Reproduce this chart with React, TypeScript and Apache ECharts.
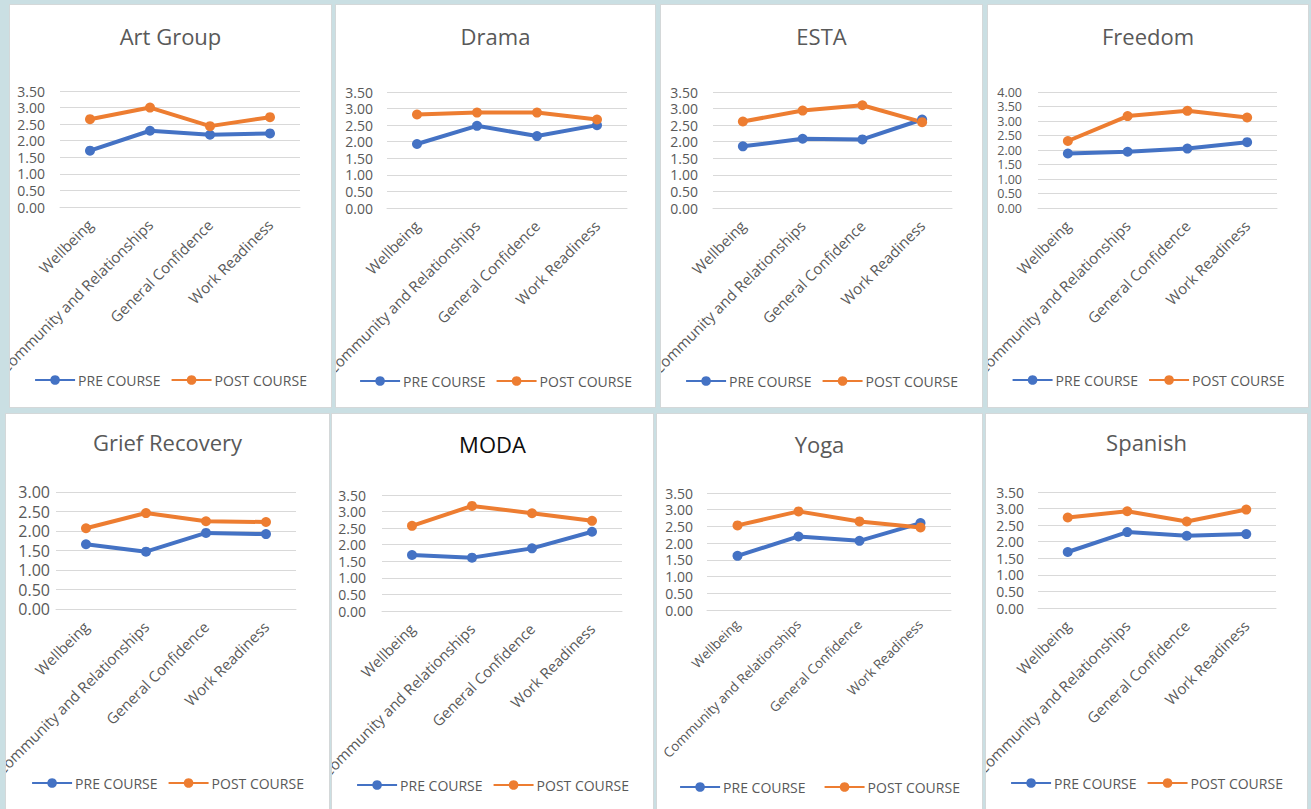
import React, { useEffect, useRef } from "react";
import * as echarts from "echarts";

// Survey dimensions on the category axis
const categories = [
  "Wellbeing",
  "Community and Relationships",
  "General Confidence",
  "Work Readiness",
];
const seriesNames = ["PRE COURSE", "POST COURSE"];

// Average scores per course, before and after
const artPre = [1.7, 2.3, 2.18, 2.22];
const artPost = [2.65, 3.0, 2.44, 2.71];
const dramaPre = [1.93, 2.48, 2.17, 2.5];
const dramaPost = [2.82, 2.88, 2.88, 2.67];
const estaPre = [1.86, 2.09, 2.07, 2.67];
const estaPost = [2.61, 2.94, 3.1, 2.59];
const freedomPre = [1.88, 1.94, 2.05, 2.27];
const freedomPost = [2.31, 3.17, 3.35, 3.12];
const griefPre = [1.66, 1.47, 1.95, 1.92];
const griefPost = [2.07, 2.46, 2.25, 2.23];
const modaPre = [1.69, 1.61, 1.89, 2.39];
const modaPost = [2.57, 3.17, 2.95, 2.72];
const yogaPre = [1.62, 2.2, 2.07, 2.6];
const yogaPost = [2.53, 2.95, 2.65, 2.47];
const spanishPre = [1.69, 2.29, 2.18, 2.23];
const spanishPost = [2.73, 2.92, 2.61, 2.97];

const courseTitles = [
  "Art Group",
  "Drama",
  "ESTA",
  "Freedom",
  "Grief Recovery",
  "MODA",
  "Yoga",
  "Spanish",
];
const preScores = [artPre, dramaPre, estaPre, freedomPre, griefPre, modaPre, yogaPre, spanishPre];
const postScores = [artPost, dramaPost, estaPost, freedomPost, griefPost, modaPost, yogaPost, spanishPost];
const axisMax = [3.5, 3.5, 3.5, 4.0, 3.0, 3.5, 3.5, 3.5];
const axisStep = 0.5;

// Panel placement on the page (outer box incl. border) and inner layout
type PanelLayout = {
  x: number; y: number; w: number; h: number;
  gridLeft: number; gridTop: number; gridWidth: number; gridHeight: number;
  titleY: number; legendY: number; legendGap: number; titleColor: string;
  yFont: number; yMargin: number; xFont: number; xMargin: number;
};

const panelLayouts: PanelLayout[] = [
  { x: 9, y: 4, w: 323, h: 404, gridLeft: 51, gridTop: 87, gridWidth: 240, gridHeight: 116, titleY: 33, legendY: 376, legendGap: 10, titleColor: "#595959", yFont: 14, yMargin: 15, xFont: 15, xMargin: 15 },
  { x: 335, y: 4, w: 321, h: 404, gridLeft: 52, gridTop: 88, gridWidth: 240, gridHeight: 116, titleY: 33, legendY: 377, legendGap: 10, titleColor: "#595959", yFont: 14, yMargin: 14, xFont: 15, xMargin: 15 },
  { x: 660, y: 4, w: 323, h: 404, gridLeft: 53, gridTop: 88, gridWidth: 239, gridHeight: 116, titleY: 33, legendY: 377, legendGap: 10, titleColor: "#595959", yFont: 14, yMargin: 15, xFont: 15, xMargin: 15 },
  { x: 987, y: 4, w: 322, h: 404, gridLeft: 51, gridTop: 88, gridWidth: 239, gridHeight: 116, titleY: 33, legendY: 376, legendGap: 10, titleColor: "#595959", yFont: 12.5, yMargin: 16, xFont: 15, xMargin: 15 },
  { x: 5, y: 413, w: 325, h: 400, gridLeft: 51, gridTop: 79, gridWidth: 240, gridHeight: 117, titleY: 30, legendY: 370, legendGap: 10, titleColor: "#595959", yFont: 16, yMargin: 6, xFont: 15, xMargin: 15 },
  { x: 331, y: 413, w: 323, h: 400, gridLeft: 51, gridTop: 82, gridWidth: 240, gridHeight: 116, titleY: 32, legendY: 372, legendGap: 10, titleColor: "#0d0d0d", yFont: 14, yMargin: 16, xFont: 15, xMargin: 15 },
  { x: 656, y: 413, w: 327, h: 400, gridLeft: 51, gridTop: 80, gridWidth: 244, gridHeight: 117, titleY: 32, legendY: 374, legendGap: 18, titleColor: "#595959", yFont: 14, yMargin: 14, xFont: 13.5, xMargin: 12 },
  { x: 985, y: 413, w: 323, h: 400, gridLeft: 53, gridTop: 79, gridWidth: 238, gridHeight: 116, titleY: 30, legendY: 370, legendGap: 10, titleColor: "#595959", yFont: 14, yMargin: 14, xFont: 15, xMargin: 15 },
];

const FONT = "'Open Sans', 'Noto Sans', sans-serif";
const TEXT = "#595959";
const GRID_LINE = "#d9d9d9";
const BLUE = "#4472c4";
const ORANGE = "#ed7d31";

function buildOption(i: number): echarts.EChartsOption {
  const L = panelLayouts[i];
  const mk = (name: string, data: number[], color: string) => ({
    name,
    type: "line" as const,
    data,
    symbol: "circle",
    symbolSize: 10,
    lineStyle: { color, width: 4 },
    itemStyle: { color },
  });
  return {
    animation: false,
    backgroundColor: "#ffffff",
    title: {
      text: courseTitles[i],
      left: "center",
      top: L.titleY - 12,
      padding: 0,
      textStyle: { fontFamily: FONT, fontSize: 22, fontWeight: "normal", color: L.titleColor },
    },
    legend: {
      data: seriesNames,
      left: "center",
      top: L.legendY - 7,
      padding: 0,
      itemWidth: 40,
      itemHeight: 12,
      itemGap: L.legendGap,
      textStyle: { fontFamily: FONT, fontSize: 14, color: TEXT, padding: [0, 0, 0, -2] },
    },
    grid: {
      left: L.gridLeft,
      top: L.gridTop,
      width: L.gridWidth,
      height: L.gridHeight,
      containLabel: false,
      outerBoundsMode: "none",
    } as any,
    xAxis: {
      type: "category",
      data: categories,
      boundaryGap: true,
      axisLine: { lineStyle: { color: GRID_LINE, width: 1 } },
      axisTick: { show: false },
      axisLabel: {
        interval: 0,
        rotate: 45,
        margin: L.xMargin,
        fontFamily: FONT,
        fontSize: L.xFont,
        color: TEXT,
        hideOverlap: false,
      },
    },
    yAxis: {
      type: "value",
      min: 0,
      max: axisMax[i],
      interval: axisStep,
      axisLine: { show: false },
      axisTick: { show: false },
      splitLine: { lineStyle: { color: GRID_LINE, width: 1 } },
      axisLabel: {
        margin: L.yMargin,
        fontFamily: FONT,
        fontSize: L.yFont,
        color: TEXT,
        formatter: (v: number) => v.toFixed(2),
      },
    },
    series: [mk(seriesNames[0], preScores[i], BLUE), mk(seriesNames[1], postScores[i], ORANGE)],
  };
}

function Panel({ index }: { index: number }) {
  const ref = useRef<HTMLDivElement>(null);
  const L = panelLayouts[index];
  useEffect(() => {
    if (!ref.current) return;
    const chart = echarts.init(ref.current, undefined, { renderer: "svg" });
    chart.setOption(buildOption(index));
    return () => chart.dispose();
  }, [index]);
  return (
    <div
      style={{
        position: "absolute",
        left: L.x,
        top: L.y,
        width: L.w,
        height: L.h,
        boxSizing: "border-box",
        border: "1px solid #d4d8d9",
        background: "#ffffff",
        overflow: "hidden",
      }}
    >
      <div
        ref={ref}
        style={{ position: "absolute", left: -1, top: -1, width: L.w, height: L.h }}
      />
    </div>
  );
}

export default function App() {
  return (
    <div
      style={{
        position: "fixed",
        left: 0,
        top: 0,
        width: 1311,
        height: 809,
        overflow: "hidden",
        background: "#cadfe3",
      }}
    >
      {panelLayouts.map((_, i) => (
        <Panel key={i} index={i} />
      ))}
    </div>
  );
}
